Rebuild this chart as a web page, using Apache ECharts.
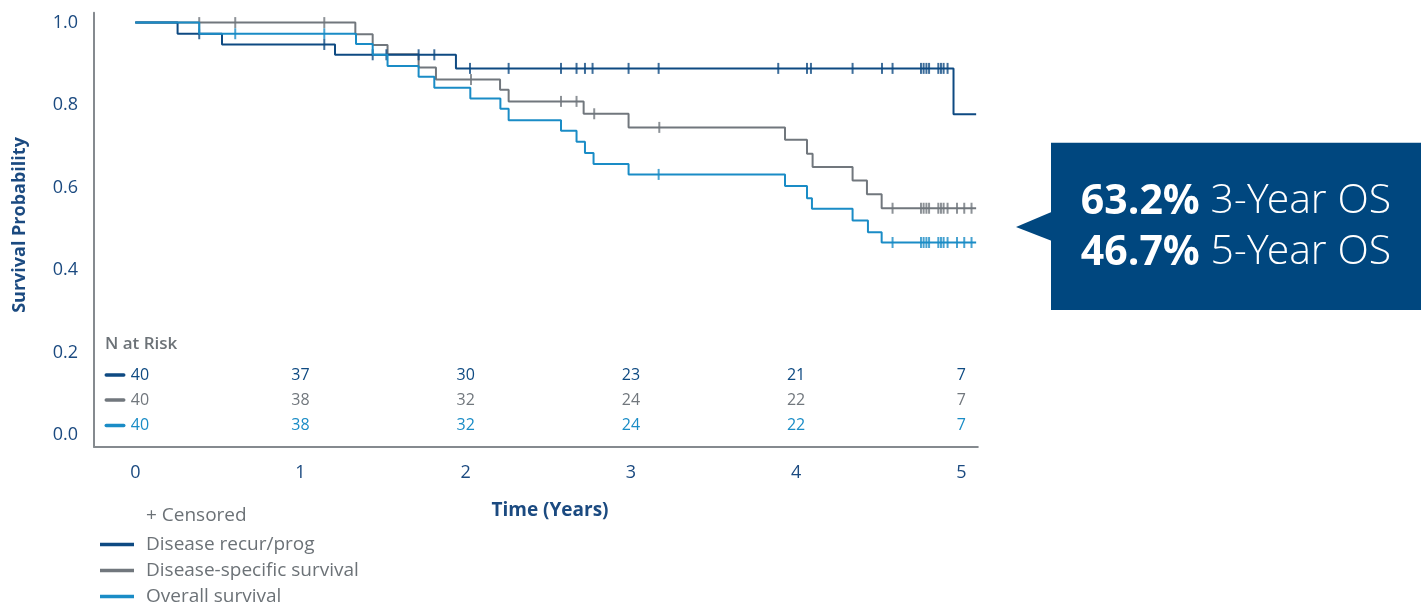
<!DOCTYPE html>
<html><head><meta charset="utf-8">
<script src="https://cdn.jsdelivr.net/npm/echarts@6/dist/echarts.min.js"></script>
<style>html,body{margin:0;padding:0;background:#fff}#c{width:1427px;height:604px}</style>
</head><body><div id="c"></div>
<script>
// ---------- data ----------
const seriesNames = ['Disease recur/prog', 'Disease-specific survival', 'Overall survival'];
const followEnd = 5.09;

const recurTimes  = [0, 0.256, 0.525, 1.209, 1.941, 4.953];
const recurValues = [1, 0.973, 0.947, 0.922, 0.889, 0.778];
const recurCensor = [0.387, 1.144, 1.437, 1.52, 1.715, 1.81, 2.026, 2.26, 2.577, 2.671, 2.722, 2.768, 2.986, 3.168,
  3.892, 4.066, 4.09, 4.342, 4.52, 4.584, 4.756, 4.772, 4.789, 4.805, 4.861, 4.877, 4.893, 4.917];

const dssTimes  = [0, 1.332, 1.437, 1.527, 1.715, 1.82, 2.208, 2.26, 2.714, 2.986, 3.933, 4.066, 4.1, 4.342, 4.429, 4.518];
const dssValues = [1, 0.972, 0.946, 0.923, 0.891, 0.862, 0.837, 0.809, 0.779, 0.746, 0.716, 0.682, 0.65, 0.617, 0.584, 0.55];
const dssCensor = [0.387, 0.605, 1.144, 2.032, 2.577, 2.671, 2.778, 3.172, 4.584, 4.756, 4.772, 4.789, 4.805,
  4.861, 4.877, 4.893, 4.917, 4.974, 5.018, 5.062];

const osTimes  = [0, 0.387, 1.336, 1.437, 1.527, 1.715, 1.81, 2.028, 2.21, 2.26, 2.577, 2.671, 2.722, 2.774, 2.986,
  3.933, 4.066, 4.096, 4.342, 4.435, 4.518];
const osValues = [1, 0.973, 0.948, 0.922, 0.895, 0.869, 0.842, 0.816, 0.791, 0.763, 0.738, 0.711, 0.684, 0.657, 0.632,
  0.604, 0.574, 0.549, 0.52, 0.492, 0.467];
const osCensor = [0.605, 1.144, 3.168, 4.584, 4.756, 4.772, 4.789, 4.805, 4.861, 4.877, 4.893, 4.917, 4.974, 5.018, 5.062];

const xTicks = [0, 1, 2, 3, 4, 5];
const yTicks = [0, 0.2, 0.4, 0.6, 0.8, 1.0];

const riskTimes = [0, 1, 2, 3, 4, 5];
const riskRecur = [40, 37, 30, 23, 21, 7];
const riskDss   = [40, 38, 32, 24, 22, 7];
const riskOs    = [40, 38, 32, 24, 22, 7];

const calloutLines = [['63.2%', '3-Year OS'], ['46.7%', '5-Year OS']];

// ---------- style ----------
const FONT = '"Open Sans", "Noto Sans", sans-serif';
const FONT_LIGHT = '"Open Sans Light", "Open Sans", "Noto Sans", sans-serif';
const C_DARK = '#0e4a82', C_GRAY = '#71777d', C_LIGHT = '#1a8cc6';
const C_TEXT = '#1b4a80', C_GTEXT = '#6c7277', C_BOX = '#00477f';

function survAt(times, values, t) {
  let v = values[0];
  for (let i = 0; i < times.length; i++) { if (times[i] <= t) v = values[i]; }
  return v;
}
function stepData(times, values) {
  const d = times.map((t, i) => [t, values[i]]);
  d.push([followEnd, values[values.length - 1]]);
  return d;
}
function censorData(times, values, cens) {
  return cens.map(t => [t, survAt(times, values, t)]);
}

const chart = echarts.init(document.getElementById('c'), null, {renderer: 'canvas'});

const lineSeries = (name, times, values, color, z) => ({
  name, type: 'line', step: 'end', data: stepData(times, values), showSymbol: false, z,
  lineStyle: {color, width: 2}, itemStyle: {color}, animation: false
});
const censorSeries = (name, times, values, cens, color, z) => ({
  name: name + ' censored', type: 'scatter', data: censorData(times, values, cens), z,
  symbol: 'rect', symbolSize: [2, 11], itemStyle: {color}, animation: false, silent: true
});

chart.setOption({
  animation: false,
  textStyle: {fontFamily: FONT},
  grid: {left: 94, top: 12.7, width: 883.8, height: 434},
  xAxis: {
    type: 'value', min: -0.25, max: 5.1,
    axisLine: {show: true, onZero: false, lineStyle: {color: '#858a8f', width: 2}},
    axisTick: {show: false}, splitLine: {show: false},
    axisLabel: {customValues: xTicks, fontSize: 18, color: C_TEXT, margin: 17, fontFamily: FONT}
  },
  yAxis: {
    type: 'value', min: -0.028, max: 1.024,
    axisLine: {show: true, onZero: false, lineStyle: {color: '#858a8f', width: 2}},
    axisTick: {show: false}, splitLine: {show: false},
    axisLabel: {customValues: yTicks, formatter: v => v.toFixed(1), fontSize: 18, color: C_TEXT, margin: 16, fontFamily: FONT}
  },
  legend: {
    data: seriesNames, orient: 'vertical', left: 100, top: 535, height: 100, padding: 0,
    itemWidth: 34, itemHeight: 3.5, itemGap: 7, icon: 'rect',
    textStyle: {fontSize: 19, color: C_GTEXT, fontFamily: FONT, padding: [0, 0, 0, 7]}
  },
  series: [
    lineSeries(seriesNames[1], dssTimes, dssValues, C_GRAY, 2),
    lineSeries(seriesNames[0], recurTimes, recurValues, C_DARK, 3),
    lineSeries(seriesNames[2], osTimes, osValues, C_LIGHT, 4),
    censorSeries(seriesNames[1], dssTimes, dssValues, dssCensor, C_GRAY, 2),
    censorSeries(seriesNames[0], recurTimes, recurValues, recurCensor, C_DARK, 3),
    censorSeries(seriesNames[2], osTimes, osValues, osCensor, C_LIGHT, 4)
  ]
});

// ---------- annotations ----------
const g = [];
g.push({type: 'text', x: 20, y: 225, rotation: Math.PI / 2,
  style: {text: 'Survival Probability', fontSize: 18, fontWeight: 'bold', fill: C_TEXT, fontFamily: FONT,
    align: 'center', verticalAlign: 'middle'}});
g.push({type: 'text', x: 550, y: 511,
  style: {text: 'Time (Years)', fontSize: 19, fontWeight: 'bold', fill: C_TEXT, fontFamily: FONT,
    align: 'center', verticalAlign: 'middle'}});
g.push({type: 'text', x: 146, y: 516,
  style: {text: '+ Censored', fontSize: 19, fill: C_GTEXT, fontFamily: FONT, align: 'left', verticalAlign: 'middle'}});
g.push({type: 'text', x: 105, y: 344,
  style: {text: 'N at Risk', fontSize: 17, fontWeight: 600, fill: C_GTEXT, fontFamily: FONT, align: 'left', verticalAlign: 'middle'}});
const rows = [[riskRecur, C_DARK, 375], [riskDss, C_GRAY, 400], [riskOs, C_LIGHT, 425.5]];
rows.forEach(([vals, color, y]) => {
  g.push({type: 'rect', shape: {x: 104.5, y: y - 1.75, width: 21, height: 3.5, r: 1.75}, style: {fill: color}});
  vals.forEach((v, i) => {
    const px = chart.convertToPixel({xAxisIndex: 0}, riskTimes[i]);
    g.push({type: 'text', x: i === 0 ? px - 4.5 : px, y,
      style: {text: String(v), fontSize: 16, fill: color, fontFamily: FONT,
        align: i === 0 ? 'left' : 'center', verticalAlign: 'middle'}});
  });
});
g.push({type: 'polygon', shape: {points: [[1016, 227], [1052, 211.7], [1052, 241]]}, style: {fill: C_BOX}});
g.push({type: 'rect', shape: {x: 1051, y: 142.7, width: 370, height: 167.3}, style: {fill: C_BOX}});
g.push({type: 'text', x: 1236, y: 228,
  style: {
    text: calloutLines.map(l => '{b|' + l[0] + '}{l| ' + l[1] + '}').join('\n'),
    align: 'center', verticalAlign: 'middle', fontFamily: FONT,
    rich: {
      b: {fontSize: 41, fontWeight: 'bold', fill: '#fff', fontFamily: FONT, lineHeight: 51},
      l: {fontSize: 41, fontWeight: 300, fill: '#fff', fontFamily: FONT_LIGHT, lineHeight: 51}
    }
  }});
chart.setOption({graphic: g});
</script>
</body></html>
